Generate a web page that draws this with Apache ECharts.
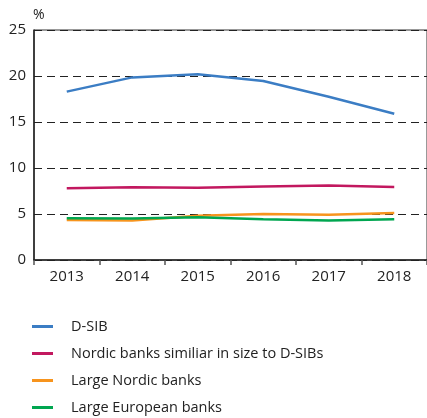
<!DOCTYPE html>
<html>
<head>
<meta charset="utf-8">
<script src="https://cdn.jsdelivr.net/npm/echarts@6/dist/echarts.min.js"></script>
<style>
html,body{margin:0;padding:0;background:#fff;}
#chart{width:427px;height:418px;}
</style>
</head>
<body>
<div id="chart"></div>
<script>
// Years on the x axis
const years = ['2013', '2014', '2015', '2016', '2017', '2018'];

// Series values, per cent
const dsib = [18.3, 19.85, 20.2, 19.45, 17.75, 15.9];
const nordicSimilar = [7.8, 7.9, 7.86, 8.0, 8.1, 7.93];
const largeNordic = [4.35, 4.3, 4.8, 5.0, 4.93, 5.1];
const largeEuropean = [4.55, 4.5, 4.65, 4.42, 4.3, 4.42];

const seriesNames = [
  'D-SIB',
  'Nordic banks similiar in size to D-SIBs',
  'Large Nordic banks',
  'Large European banks'
];
const colors = ['#3b7dc4', '#c2185f', '#f7941d', '#00a650'];

const font = '"Open Sans", "Noto Sans", sans-serif';

const chart = echarts.init(document.getElementById('chart'), null, { renderer: 'canvas' });

function line(name, data, color) {
  return {
    name: name,
    type: 'line',
    data: data,
    symbol: 'none',
    smooth: false,
    lineStyle: { color: color, width: 2.5 },
    itemStyle: { color: color },
    z: 3
  };
}

chart.setOption({
  animation: false,
  backgroundColor: '#fff',
  grid: {
    left: 34, top: 30, width: 396, height: 230,
    show: true, borderColor: '#333', borderWidth: 1, backgroundColor: 'transparent'
  },
  xAxis: {
    type: 'category',
    data: years,
    boundaryGap: true,
    axisLine: { lineStyle: { color: '#222', width: 1.5 } },
    axisTick: { show: true, length: 5, lineStyle: { color: '#555', width: 1.5 } },
    axisLabel: { color: '#222', fontSize: 15, fontFamily: font, margin: 9 },
    splitLine: { show: false }
  },
  yAxis: {
    type: 'value',
    min: 0, max: 25, interval: 5,
    name: '%',
    nameLocation: 'end',
    nameGap: 8,
    nameTextStyle: { color: '#222', fontSize: 14, fontFamily: font, align: 'left', padding: [0, 0, 0, -1] },
    axisLine: { show: true, lineStyle: { color: '#222', width: 1.5 } },
    axisTick: { show: false },
    axisLabel: { color: '#222', fontSize: 15, fontFamily: font, margin: 8 },
    splitLine: { show: true, lineStyle: { color: '#222', type: [8, 5], width: 1 } }
  },
  legend: {
    orient: 'vertical',
    left: 32, top: 319, height: 99,
    padding: 0,
    itemWidth: 21, itemHeight: 3,
    itemGap: 12,
    icon: 'rect',
    data: seriesNames,
    textStyle: { color: '#222', fontSize: 14.5, lineHeight: 15, fontFamily: font, padding: [0, 0, 0, 13] }
  },
  series: [
    line(seriesNames[0], dsib, colors[0]),
    line(seriesNames[1], nordicSimilar, colors[1]),
    line(seriesNames[2], largeNordic, colors[2]),
    line(seriesNames[3], largeEuropean, colors[3])
  ]
});
</script>
</body>
</html>
